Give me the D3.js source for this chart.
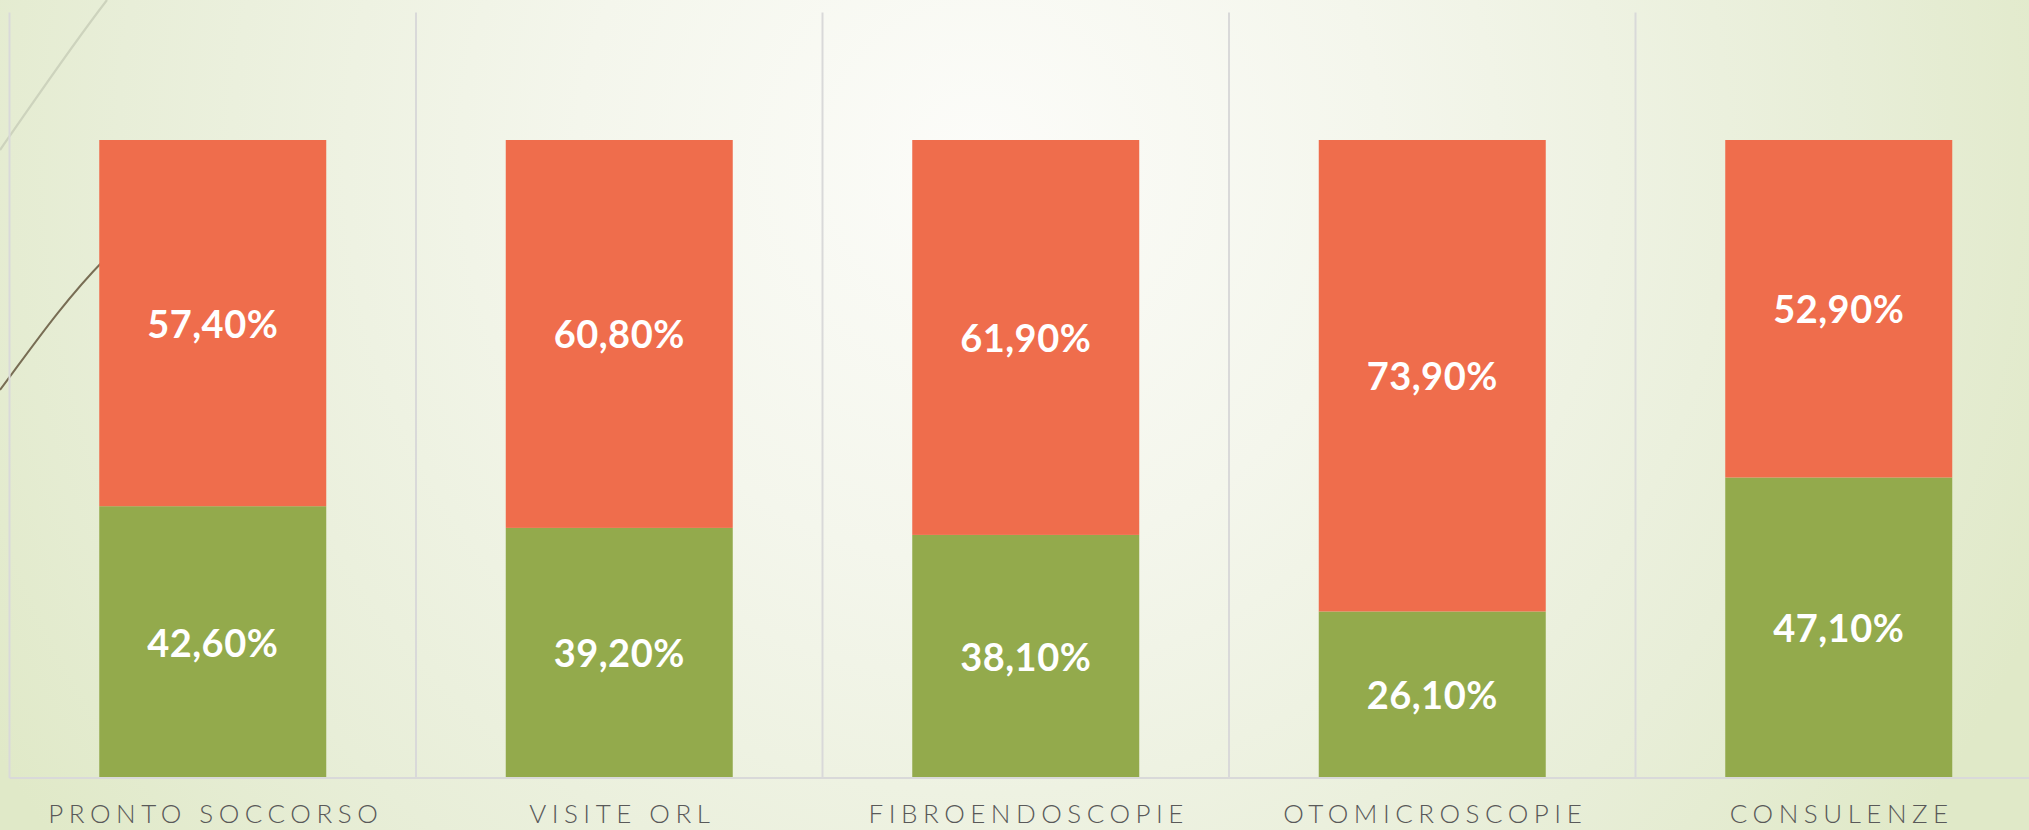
<!DOCTYPE html>
<html>
<head>
<meta charset="utf-8">
<script src="https://cdn.jsdelivr.net/npm/d3@7"></script>
<style>
  html, body { margin: 0; padding: 0; overflow: hidden; }
  svg { display: block; }
</style>
</head>
<body>
<script>
// ---- data ----
const categories = ["PRONTO SOCCORSO", "VISITE ORL", "FIBROENDOSCOPIE", "OTOMICROSCOPIE", "CONSULENZE"];
const greenValues = [42.6, 39.2, 38.1, 26.1, 47.1];
const redValues   = [57.4, 60.8, 61.9, 73.9, 52.9];
const seriesNames = ["green", "red"];

const W = 2029, H = 830;
const svg = d3.select("body").append("svg").attr("width", W).attr("height", H);

// background gradient
const defs = svg.append("defs");
const rg = defs.append("radialGradient").attr("id", "bg")
  .attr("gradientUnits", "userSpaceOnUse")
  .attr("cx", 980).attr("cy", 160).attr("r", 1150);
rg.append("stop").attr("offset", "0%").attr("stop-color", "#fcfcf9");
rg.append("stop").attr("offset", "35%").attr("stop-color", "#f4f6ec");
rg.append("stop").attr("offset", "75%").attr("stop-color", "#e8eed8");
rg.append("stop").attr("offset", "100%").attr("stop-color", "#e0e9c8");
svg.append("rect").attr("width", W).attr("height", H).attr("fill", "url(#bg)");

// decorative lines (top-left)
svg.append("path")
  .attr("d", "M0,150 C35,100 70,48 107,0")
  .attr("fill", "none").attr("stroke", "#cdd3bd").attr("stroke-width", 2.2);
svg.append("path")
  .attr("d", "M0,390 C30,350 62,303 105,259")
  .attr("fill", "none").attr("stroke", "#786d54").attr("stroke-width", 2);

// scales
const x = d3.scaleBand().domain(categories).range([9.5, 2042])
  .paddingInner(0.4416).paddingOuter(0.2208);
const y = d3.scaleLinear().domain([0, 120]).range([778, 12.4]);
const color = d3.scaleOrdinal().domain(seriesNames).range(["#93aa4c", "#ef6d4c"]);

// vertical category separators
const step = x.step();
const sepX = d3.range(categories.length + 1).map(i => x.range()[0] + i * step);
svg.append("g").selectAll("line").data(sepX).join("line")
  .attr("x1", d => d).attr("x2", d => d)
  .attr("y1", y(120)).attr("y2", y(0))
  .attr("stroke", "#d9d9d9").attr("stroke-width", 2);

// stacked data
const rows = categories.map((c, i) => ({cat: c, green: greenValues[i], red: redValues[i]}));
const stack = d3.stack().keys(seriesNames)(rows);

const g = svg.append("g");
stack.forEach(layer => {
  g.append("g").selectAll("rect").data(layer).join("rect")
    .attr("x", d => x(d.data.cat))
    .attr("width", x.bandwidth())
    .attr("y", d => y(d[1]))
    .attr("height", d => y(d[0]) - y(d[1]))
    .attr("fill", color(layer.key));
});

// value labels
const fmt = v => v.toFixed(2).replace(".", ",") + "%";
stack.forEach(layer => {
  g.append("g").selectAll("text").data(layer).join("text")
    .attr("x", d => x(d.data.cat) + x.bandwidth() / 2)
    .attr("y", d => (y(d[0]) + y(d[1])) / 2)
    .attr("dy", "0.38em")
    .attr("text-anchor", "middle")
    .attr("font-family", "Lato, 'DejaVu Sans', sans-serif")
    .attr("font-weight", 700)
    .attr("font-size", 38)
    .attr("letter-spacing", "0.5px")
    .attr("fill", "#ffffff")
    .text(d => fmt(d[1] - d[0]));
});

// x axis line
svg.append("line")
  .attr("x1", 9.5).attr("x2", W).attr("y1", y(0)).attr("y2", y(0))
  .attr("stroke", "#d9d9d9").attr("stroke-width", 2);

// category labels
const xAxis = d3.axisBottom(x).tickSize(0).tickPadding(0);
const ax = svg.append("g").attr("transform", `translate(0,${y(0)})`).call(xAxis);
ax.select(".domain").remove();
ax.selectAll("text")
  .attr("y", 45)
  .attr("dy", 0)
  .attr("dx", 3)
  .attr("font-family", "Lato, 'DejaVu Sans', sans-serif")
  .attr("font-weight", 300)
  .attr("font-size", 26)
  .attr("letter-spacing", "5.5px")
  .attr("fill", "#595959");
</script>
</body>
</html>
